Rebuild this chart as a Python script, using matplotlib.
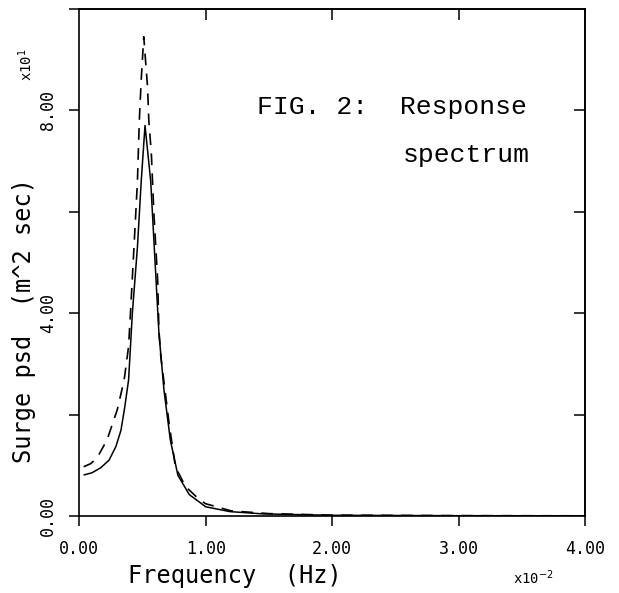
import numpy as np
import matplotlib
matplotlib.use("Agg")
import matplotlib.pyplot as plt

# values (frequency in 1e-2 Hz, psd in 1e1 m^2 sec)
solid_f = [0.04, 0.10, 0.17, 0.236, 0.29, 0.33, 0.36, 0.39, 0.42, 0.46, 0.49,
           0.52, 0.565, 0.60, 0.63, 0.67, 0.72, 0.78, 0.87, 1.00, 1.19, 1.45,
           2.0, 3.0, 4.0]
solid_p = [0.81, 0.85, 0.95, 1.10, 1.37, 1.69, 2.15, 2.68, 4.00, 5.30, 6.60,
           7.70, 6.60, 4.98, 3.60, 2.48, 1.50, 0.80, 0.42, 0.18, 0.085, 0.04,
           0.012, 0.004, 0.002]

dashed_f = [0.035, 0.09, 0.14, 0.22, 0.30, 0.355, 0.39, 0.405, 0.447, 0.46,
            0.475, 0.49, 0.51, 0.54, 0.55, 0.57, 0.58, 0.59, 0.62, 0.63, 0.645,
            0.71, 0.76, 0.84, 0.95, 1.0, 1.2, 1.5, 2.0, 3.0, 4.0]
dashed_p = [0.97, 1.03, 1.14, 1.50, 2.09, 2.68, 3.34, 4.00, 5.97, 6.60,
            7.80, 8.60, 9.45, 8.46, 7.80, 7.15, 6.56, 5.97, 4.65, 3.66, 3.14,
            1.83, 0.97, 0.58, 0.32, 0.24, 0.10, 0.045, 0.015, 0.005, 0.002]

x_ticks = [0, 1, 2, 3, 4]
x_labels = ["0.00", "1.00", "2.00", "3.00", "4.00"]
y_ticks = [0, 2, 4, 6, 8, 10]
y_labels = ["0.00", "", "4.00", "", "8.00", ""]

mono = "DejaVu Sans Mono"

fig = plt.figure(figsize=(6.19, 5.93), dpi=100)
ax = fig.add_axes([0.128, 0.130, 0.8175, 0.855])

ax.plot(solid_f, solid_p, color="k", lw=1.1)
ax.plot(dashed_f, dashed_p, color="k", lw=1.2, dashes=(7, 5))

ax.set_xlim(0, 4)
ax.set_ylim(0, 10)

ax.set_xticks(x_ticks)
ax.set_xticklabels(x_labels, family=mono, fontsize=12)
ax.set_yticks(y_ticks)
ax.set_yticklabels(y_labels, family=mono, fontsize=12, rotation=90, va="center")
ax.tick_params(axis="x", direction="out", length=7, width=1.1, pad=10)
ax.tick_params(axis="y", direction="out", length=7, width=1.1, pad=9)

top = ax.secondary_xaxis("top")
top.set_xticks([1, 2, 3])
top.tick_params(direction="in", length=8, width=1.1, labeltop=False)
right = ax.secondary_yaxis("right")
right.set_yticks([2, 4, 6, 8])
right.tick_params(direction="in", length=8, width=1.1, labelright=False)

for a in (ax, top, right):
    for s in a.spines.values():
        s.set_linewidth(1.2)

fig.text(0.38, 0.028, "Frequency  (Hz)", family=mono, fontsize=17,
         ha="center", va="center")
fig.text(0.038, 0.46, "Surge psd  (m^2 sec)", family=mono, fontsize=17,
         ha="center", va="center", rotation=90)
fig.text(0.862, 0.026, r"x10$^{-2}$", family=mono, fontsize=10,
         ha="center", va="center")
fig.text(0.042, 0.89, r"x10$^{1}$", family=mono, fontsize=10,
         ha="center", va="center", rotation=90)

ax.text(0.884, 0.807, "FIG. 2:  Response", transform=ax.transAxes,
        family="Liberation Mono", fontsize=19, ha="right", va="center")
ax.text(0.89, 0.712, "spectrum", transform=ax.transAxes,
        family="Liberation Mono", fontsize=19, ha="right", va="center")

fig.savefig("out.png", dpi=100)
plt.close(fig)
